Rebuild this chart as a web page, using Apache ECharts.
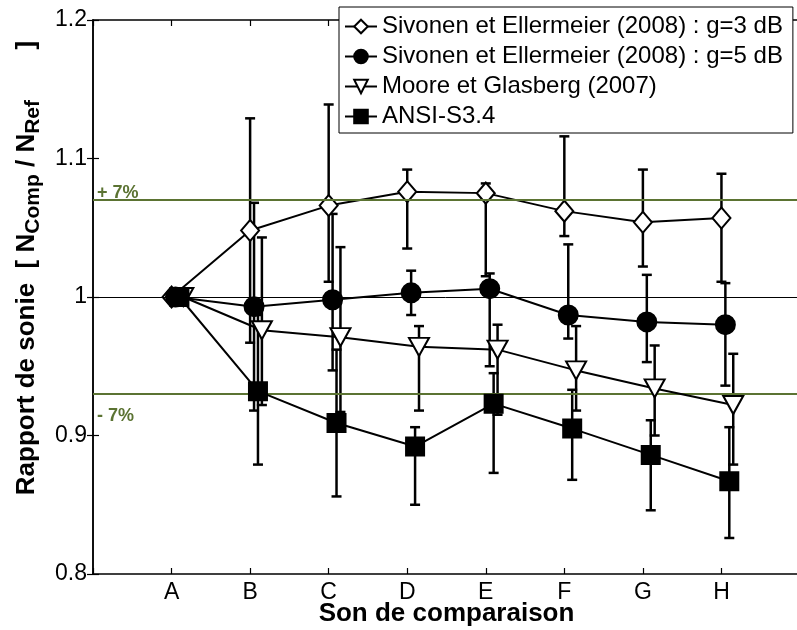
<!DOCTYPE html>
<html>
<head>
<meta charset="utf-8">
<script src="https://cdn.jsdelivr.net/npm/echarts@6/dist/echarts.min.js"></script>
<style>
html,body{margin:0;padding:0;background:#fff;}
#c{width:797px;height:630px;}
</style>
</head>
<body>
<div id="c"></div>
<script>
// ---- data ----
const categories = ['A','B','C','D','E','F','G','H'];
const seriesNames = [
  'Sivonen et Ellermeier (2008) : g=3 dB',
  'Sivonen et Ellermeier (2008) : g=5 dB',
  'Moore et Glasberg (2007)',
  'ANSI-S3.4'
];
const g3     = [1.000, 1.048, 1.066, 1.076, 1.075, 1.062, 1.054, 1.057];
const g3Low  = [null,  0.967, 1.011, 1.035, 1.015, 1.044, 1.022, 1.011];
const g3High = [null,  1.129, 1.139, 1.092, 1.082, 1.116, 1.092, 1.089];
const g5     = [1.000, 0.993, 0.998, 1.003, 1.006, 0.987, 0.982, 0.980];
const g5Low  = [null,  0.918, 0.947, 0.987, 0.950, 0.970, 0.953, 0.936];
const g5High = [null,  1.068, 1.060, 1.019, 1.017, 1.038, 1.016, 1.010];
const moore     = [1.000, 0.976, 0.971, 0.964, 0.962, 0.947, 0.934, 0.922];
const mooreLow  = [null,  0.922, 0.917, 0.918, 0.915, 0.918, 0.900, 0.879];
const mooreHigh = [null,  1.043, 1.036, 0.979, 0.980, 0.979, 0.965, 0.959];
const ansi     = [1.000, 0.932, 0.909, 0.892, 0.923, 0.905, 0.886, 0.867];
const ansiLow  = [null,  0.879, 0.856, 0.850, 0.873, 0.868, 0.846, 0.826];
const ansiHigh = [null,  0.987, 0.962, 0.906, 0.945, 0.933, 0.911, 0.906];
const refValue = 1.0;
const bandValues = [1.068, 0.927];
const bandLabels = ['+ 7%', '- 7%'];
const yTicks = [0.8, 0.9, 1.0, 1.1, 1.2];

// ---- styling / layout ----
const FONT = "'Liberation Sans', Arial, sans-serif";
const GREEN = '#5b7332';
const offsets = [0, 0.05, 0.15, 0.10];
const values = [g3, g5, moore, ansi];
const lows = [g3Low, g5Low, mooreLow, ansiLow];
const highs = [g3High, g5High, mooreHigh, ansiHigh];
const symbols = [
  {symbol:'diamond', size:[18,21], rotate:0, fill:'#fff'},
  {symbol:'circle', size:19, rotate:0, fill:'#000'},
  {symbol:'triangle', size:[20,18], rotate:180, fill:'#fff'},
  {symbol:'rect', size:18, rotate:0, fill:'#000'}
];

const series = [];
values.forEach((vals, s) => {
  const off = offsets[s];
  const errData = [];
  lows[s].forEach((lo, i) => {
    if (lo != null) errData.push([i + 1 + off, lo, highs[s][i]]);
  });
  series.push({
    type: 'custom',
    name: seriesNames[s] + ' err',
    z: 2,
    silent: true,
    data: errData,
    encode: {x: 0, y: [1, 2]},
    renderItem: function (params, api) {
      const x = api.value(0);
      const p1 = api.coord([x, api.value(1)]);
      const p2 = api.coord([x, api.value(2)]);
      const w = 5;
      const st = {stroke: '#000', lineWidth: 2.5};
      return {type: 'group', children: [
        {type: 'line', shape: {x1: p1[0], y1: p1[1], x2: p2[0], y2: p2[1]}, style: st},
        {type: 'line', shape: {x1: p1[0] - w, y1: p1[1], x2: p1[0] + w, y2: p1[1]}, style: st},
        {type: 'line', shape: {x1: p2[0] - w, y1: p2[1], x2: p2[0] + w, y2: p2[1]}, style: st}
      ]};
    }
  });
});
values.forEach((vals, s) => {
  const off = offsets[s];
  const sy = symbols[s];
  const obj = {
    type: 'line',
    name: seriesNames[s],
    z: 3 + s,
    data: vals.map((v, i) => [i + 1 + off, v]),
    symbol: sy.symbol,
    symbolSize: sy.size,
    symbolRotate: sy.rotate,
    showAllSymbol: true,
    lineStyle: {color: '#000', width: 2},
    itemStyle: {color: sy.fill, borderColor: '#000', borderWidth: 2},
    emphasis: {disabled: true},
    animation: false
  };
  if (s === 0) {
    obj.markLine = {
      silent: true,
      symbol: 'none',
      animation: false,
      data: [
        {yAxis: refValue, lineStyle: {color: '#000', width: 1, type: 'solid'}, label: {show: false}},
        {yAxis: bandValues[0], lineStyle: {color: GREEN, width: 2, type: 'solid'},
         label: {show: true, formatter: bandLabels[0], position: 'insideStartTop', color: GREEN,
                 fontFamily: FONT, fontWeight: 'bold', fontSize: 18, distance: [4, -2]}},
        {yAxis: bandValues[1], lineStyle: {color: GREEN, width: 2, type: 'solid'},
         label: {show: true, formatter: bandLabels[1], position: 'insideStartBottom', color: GREEN,
                 fontFamily: FONT, fontWeight: 'bold', fontSize: 18, distance: [4, 13]}}
      ]
    };
  }
  series.push(obj);
});

const chart = echarts.init(document.getElementById('c'), null, {renderer: 'canvas'});
chart.setOption({
  animation: false,
  backgroundColor: '#fff',
  grid: {left: 93, right: -3, top: 20, bottom: 56, containLabel: false, outerBoundsMode: 'none'},
  legend: {
    data: seriesNames,
    orient: 'vertical',
    left: 339, top: 7,
    itemWidth: 32, itemHeight: 17, itemGap: 5,
    padding: [7, 10, 4, 5],
    backgroundColor: '#fff',
    borderColor: '#000', borderWidth: 1,
    textStyle: {fontFamily: FONT, fontSize: 24, color: '#000', lineHeight: 25},
    selectedMode: false
  },
  xAxis: [{
    type: 'value', min: 0, max: 9, interval: 1,
    name: 'Son de comparaison', nameLocation: 'middle', nameGap: 27, nameMoveOverlap: false,
    nameTextStyle: {fontFamily: FONT, fontSize: 26, fontWeight: 'bold', color: '#000'},
    axisLine: {lineStyle: {color: '#000', width: 1.5}},
    axisTick: {inside: true, length: 6, lineStyle: {color: '#000', width: 1.2}},
    axisLabel: {fontFamily: FONT, fontSize: 23, color: '#000', margin: 7,
      formatter: v => (v >= 1 && v <= categories.length) ? categories[v - 1] : ''},
    splitLine: {show: false}
  }, {
    type: 'value', min: 0, max: 9, interval: 1, position: 'top',
    axisLine: {lineStyle: {color: '#000', width: 1.5}},
    axisTick: {inside: true, length: 6, lineStyle: {color: '#000', width: 1.2}},
    axisLabel: {show: false}, splitLine: {show: false}
  }],
  yAxis: [{
    type: 'value', min: yTicks[0], max: yTicks[yTicks.length - 1], interval: 0.1,
    name: '{t|Rapport de sonie  [ N}{s|Comp}{t| / N}{s|Ref}{t|       ]}',
    nameLocation: 'middle', nameGap: 48,
    nameTextStyle: {
      fontFamily: FONT, color: '#000', padding: [0, 0, 0, 58],
      rich: {
        t: {fontFamily: FONT, fontSize: 26, fontWeight: 'bold', color: '#000', lineHeight: 34},
        s: {fontFamily: FONT, fontSize: 21, fontWeight: 'bold', color: '#000', lineHeight: 8, verticalAlign: 'bottom'}
      }
    },
    axisLine: {show: true, lineStyle: {color: '#000', width: 1.5}},
    axisTick: {show: true, inside: true, length: 6, lineStyle: {color: '#000', width: 1.2}},
    axisLabel: {fontFamily: FONT, fontSize: 23, color: '#000', margin: 6,
      formatter: v => String(Math.round(v * 10) / 10)},
    splitLine: {show: false}
  }, {
    type: 'value', min: yTicks[0], max: yTicks[yTicks.length - 1], interval: 0.1, position: 'right',
    axisLine: {show: true, lineStyle: {color: '#000', width: 1.5}},
    axisTick: {show: true, inside: true, length: 6, lineStyle: {color: '#000', width: 1.2}},
    axisLabel: {show: false}, splitLine: {show: false}
  }],
  series: series
});
</script>
</body>
</html>
